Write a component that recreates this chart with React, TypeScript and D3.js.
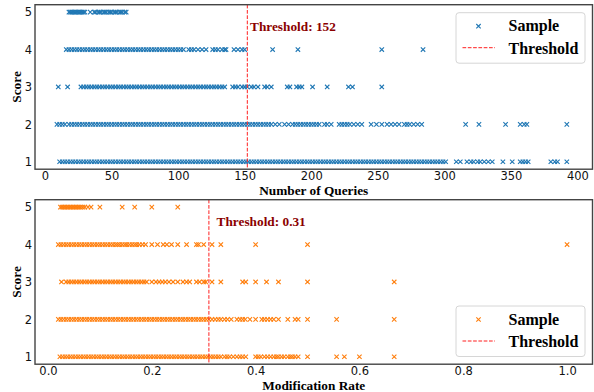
import React, { useEffect, useRef } from 'react';
import * as d3 from 'd3';

// scores on the y axis
const scores = [1, 2, 3, 4, 5];

// Number of Queries, one list per score
const queryScore5 = [18, 19, 20, 21, 22, 23, 24, 25, 26, 27, 28, 29, 30, 34, 37, 38, 40, 41, 42, 44, 45, 46, 48, 49, 50, 52, 53, 54, 56, 57, 58, 60, 61];
const queryScore4 = [16, 18, 20, 22, 24, 26, 28, 30, 32, 34, 36, 38, 40, 42, 44, 46, 48, 50, 52, 54, 56, 58, 60, 62, 64, 66, 68, 70, 72, 74, 76, 78, 80, 82, 84, 86, 88, 90, 92, 94, 96, 98, 100, 102, 104, 108, 110, 112, 115, 118, 121, 126, 128, 130, 133, 135, 136, 142, 145, 148, 150, 171, 190, 253, 284];
const queryScore3 = [10, 17, 27, 29, 31, 33, 35, 37, 39, 41, 43, 45, 47, 49, 51, 53, 55, 57, 59, 61, 63, 65, 67, 69, 71, 73, 75, 77, 79, 81, 83, 85, 87, 89, 91, 93, 95, 97, 99, 101, 103, 105, 107, 109, 111, 113, 115, 117, 119, 121, 123, 125, 127, 129, 131, 133, 135, 141, 143, 145, 148, 150, 152, 155, 157, 160, 165, 167, 170, 182, 184, 189, 191, 193, 201, 212, 228, 231, 253];
const queryScore2 = [9, 11, 13, 15, 18, 20, 22, 24, 26, 28, 30, 32, 34, 36, 38, 40, 42, 44, 46, 48, 50, 52, 54, 56, 58, 60, 62, 64, 66, 68, 70, 72, 74, 76, 78, 80, 82, 84, 86, 88, 90, 92, 94, 96, 98, 100, 102, 104, 106, 108, 110, 112, 114, 116, 118, 120, 122, 124, 126, 128, 130, 132, 134, 136, 138, 140, 142, 144, 146, 148, 150, 152, 154, 156, 158, 160, 162, 164, 166, 168, 170, 173, 176, 180, 183, 186, 188, 190, 192, 194, 196, 198, 200, 202, 204, 206, 210, 212, 215, 221, 223, 225, 227, 229, 232, 235, 238, 245, 249, 253, 257, 260, 263, 266, 270, 272, 274, 277, 280, 283, 316, 326, 346, 357, 360, 362, 392];
const queryScore1 = [11, 13, 15, 17, 19, 21, 23, 25, 27, 29, 31, 33, 35, 37, 39, 41, 43, 45, 47, 49, 51, 53, 55, 57, 59, 61, 63, 65, 67, 69, 71, 73, 75, 77, 79, 81, 83, 85, 87, 89, 91, 93, 95, 97, 99, 101, 103, 105, 107, 109, 111, 113, 115, 117, 119, 121, 123, 125, 127, 129, 131, 133, 135, 137, 139, 141, 143, 145, 147, 149, 151, 153, 155, 157, 159, 161, 163, 165, 167, 169, 171, 173, 175, 177, 179, 181, 183, 185, 187, 189, 191, 193, 195, 197, 199, 201, 203, 205, 207, 209, 211, 213, 215, 217, 219, 221, 223, 225, 227, 229, 231, 233, 235, 237, 239, 241, 243, 245, 247, 249, 251, 253, 255, 257, 259, 261, 263, 265, 267, 269, 271, 273, 275, 277, 279, 281, 283, 285, 287, 289, 291, 293, 295, 297, 299, 301, 309, 312, 317, 320, 322, 325, 327, 330, 333, 336, 344, 351, 357, 359, 361, 363, 380, 383, 385, 392];
const queryThreshold = 152;
const queryTicks = [0, 50, 100, 150, 200, 250, 300, 350, 400];

// Modification Rate, one list per score
const rateScore5 = [0.024, 0.027, 0.03, 0.033, 0.036, 0.039, 0.042, 0.045, 0.048, 0.051, 0.054, 0.057, 0.06, 0.063, 0.067, 0.071, 0.077, 0.083, 0.1, 0.143, 0.167, 0.2, 0.25];
const rateScore4 = [0.02, 0.025, 0.03, 0.035, 0.04, 0.045, 0.05, 0.055, 0.06, 0.065, 0.07, 0.075, 0.08, 0.085, 0.09, 0.095, 0.1, 0.105, 0.11, 0.115, 0.12, 0.125, 0.13, 0.134, 0.138, 0.143, 0.148, 0.152, 0.157, 0.162, 0.167, 0.171, 0.176, 0.182, 0.188, 0.2, 0.211, 0.222, 0.229, 0.238, 0.25, 0.267, 0.286, 0.29, 0.3, 0.316, 0.333, 0.4, 0.5, 1.0];
const rateScore3 = [0.026, 0.035, 0.04, 0.045, 0.05, 0.055, 0.06, 0.065, 0.07, 0.075, 0.08, 0.085, 0.09, 0.095, 0.1, 0.105, 0.11, 0.115, 0.12, 0.125, 0.13, 0.135, 0.14, 0.145, 0.15, 0.155, 0.16, 0.165, 0.17, 0.175, 0.18, 0.185, 0.19, 0.2, 0.208, 0.214, 0.22, 0.226, 0.233, 0.241, 0.25, 0.26, 0.267, 0.273, 0.286, 0.292, 0.3, 0.304, 0.316, 0.333, 0.375, 0.381, 0.4, 0.421, 0.444, 0.5, 0.667];
const rateScore2 = [0.02, 0.025, 0.03, 0.035, 0.04, 0.045, 0.05, 0.055, 0.06, 0.065, 0.07, 0.075, 0.08, 0.085, 0.09, 0.095, 0.1, 0.105, 0.11, 0.115, 0.12, 0.125, 0.13, 0.135, 0.14, 0.145, 0.15, 0.155, 0.16, 0.165, 0.17, 0.175, 0.18, 0.185, 0.19, 0.195, 0.2, 0.205, 0.21, 0.215, 0.22, 0.225, 0.23, 0.235, 0.24, 0.245, 0.25, 0.255, 0.26, 0.265, 0.27, 0.275, 0.28, 0.285, 0.29, 0.295, 0.3, 0.305, 0.31, 0.316, 0.322, 0.328, 0.333, 0.34, 0.346, 0.353, 0.364, 0.37, 0.375, 0.38, 0.389, 0.4, 0.412, 0.417, 0.423, 0.429, 0.435, 0.444, 0.462, 0.476, 0.482, 0.5, 0.556, 0.667];
const rateScore1 = [0.023, 0.028, 0.033, 0.038, 0.043, 0.048, 0.053, 0.058, 0.063, 0.068, 0.073, 0.078, 0.083, 0.088, 0.093, 0.098, 0.103, 0.108, 0.113, 0.118, 0.123, 0.128, 0.133, 0.138, 0.143, 0.148, 0.153, 0.158, 0.163, 0.168, 0.173, 0.178, 0.183, 0.188, 0.193, 0.198, 0.203, 0.208, 0.213, 0.218, 0.223, 0.228, 0.233, 0.238, 0.243, 0.248, 0.253, 0.258, 0.263, 0.268, 0.273, 0.278, 0.283, 0.288, 0.293, 0.298, 0.303, 0.308, 0.313, 0.318, 0.323, 0.328, 0.333, 0.34, 0.345, 0.35, 0.357, 0.364, 0.37, 0.375, 0.381, 0.4, 0.405, 0.41, 0.417, 0.423, 0.429, 0.435, 0.44, 0.444, 0.45, 0.455, 0.462, 0.467, 0.471, 0.476, 0.482, 0.5, 0.556, 0.571, 0.6, 0.667];
const rateThreshold = 0.31;
const rateTicks = [0.0, 0.2, 0.4, 0.6, 0.8, 1.0];

const queryRows = [queryScore1, queryScore2, queryScore3, queryScore4, queryScore5];
const rateRows = [rateScore1, rateScore2, rateScore3, rateScore4, rateScore5];

const SERIF = '"Liberation Serif", "Times New Roman", serif';
const SANS = '"DejaVu Sans", sans-serif';
const RED = '#ff1f1f';
const xMark = 'M-2.2,-2.2L2.2,2.2M-2.2,2.2L2.2,-2.2';

const Panel = (props) => {
  const ref = useRef(null);

  useEffect(() => {
    const g = d3.select(ref.current);
    g.selectAll('*').remove();

    const left = 35;
    const right = 592.5;
    const top = props.top;
    const bottom = top + 164.5;

    const x = d3.scaleLinear().domain(props.xDomain).range([left, right]);
    const y = d3.scaleLinear().domain([0.8, 5.2]).range([bottom, top]);

    // scatter
    const points = [];
    props.rows.forEach((xs, i) => {
      xs.forEach((v) => points.push({ x: v, s: scores[i] }));
    });
    g.append('g')
      .selectAll('path')
      .data(points)
      .enter()
      .append('path')
      .attr('d', xMark)
      .attr('transform', (d) => `translate(${x(d.x)},${y(d.s)})`)
      .attr('stroke', props.color)
      .attr('stroke-width', 1.1)
      .attr('fill', 'none');

    // threshold
    g.append('line')
      .attr('x1', x(props.threshold))
      .attr('x2', x(props.threshold))
      .attr('y1', top)
      .attr('y2', bottom)
      .attr('stroke', RED)
      .attr('stroke-width', 1)
      .attr('stroke-dasharray', '3.7,1.6');

    g.append('text')
      .attr('x', x(props.threshold) + props.labelDx)
      .attr('y', y(4.5))
      .style('font-family', SERIF)
      .style('font-weight', 'bold')
      .style('font-size', '13.3px')
      .style('fill', '#8b0000')
      .text(props.thresholdText);

    // axes
    const xAxis = g
      .append('g')
      .attr('transform', `translate(0,${bottom})`)
      .call(
        d3
          .axisBottom(x)
          .tickValues(props.xTicks)
          .tickSize(0)
          .tickPadding(2.5)
          .tickFormat(props.tickFormat)
      );
    xAxis.select('.domain').remove();
    xAxis
      .selectAll('text')
      .style('font-family', SANS)
      .style('font-size', '11.5px')
      .style('fill', '#111');

    const yAxis = g
      .append('g')
      .attr('transform', `translate(${left},0)`)
      .call(d3.axisLeft(y).tickValues(scores).tickSize(0).tickPadding(3).tickFormat(d3.format('d')));
    yAxis.select('.domain').remove();
    yAxis
      .selectAll('text')
      .style('font-family', SANS)
      .style('font-size', '11.5px')
      .style('fill', '#111');

    g.append('rect')
      .attr('x', left)
      .attr('y', top)
      .attr('width', right - left)
      .attr('height', bottom - top)
      .attr('fill', 'none')
      .attr('stroke', '#444')
      .attr('stroke-width', 1.4);

    // axis labels
    g.append('text')
      .attr('x', (left + right) / 2)
      .attr('y', bottom + 25.3)
      .attr('text-anchor', 'middle')
      .style('font-family', SERIF)
      .style('font-weight', 'bold')
      .style('font-size', '13.3px')
      .text(props.xLabel);

    g.append('text')
      .attr('transform', `translate(21,${(top + bottom) / 2}) rotate(-90)`)
      .attr('text-anchor', 'middle')
      .style('font-family', SERIF)
      .style('font-weight', 'bold')
      .style('font-size', '13.3px')
      .text('Score');

    // legend
    const ly = props.legendTop;
    const legend = g.append('g');
    legend
      .append('rect')
      .attr('x', 456)
      .attr('y', ly)
      .attr('width', 129)
      .attr('height', 50.5)
      .attr('rx', 3)
      .attr('fill', 'white')
      .attr('fill-opacity', 0.8)
      .attr('stroke', '#d6d6d6')
      .attr('stroke-width', 1);
    legend
      .append('path')
      .attr('d', xMark)
      .attr('transform', `translate(478.5,${ly + 13.5})`)
      .attr('stroke', props.color)
      .attr('stroke-width', 1.1)
      .attr('fill', 'none');
    legend
      .append('line')
      .attr('x1', 462.5)
      .attr('x2', 495)
      .attr('y1', ly + 35)
      .attr('y2', ly + 35)
      .attr('stroke', RED)
      .attr('stroke-width', 1)
      .attr('stroke-dasharray', '3.7,1.6');
    legend
      .append('text')
      .attr('x', 508.5)
      .attr('y', ly + 18.5)
      .style('font-family', SERIF)
      .style('font-weight', 'bold')
      .style('font-size', '16px')
      .text('Sample');
    legend
      .append('text')
      .attr('x', 508.5)
      .attr('y', ly + 40.8)
      .style('font-family', SERIF)
      .style('font-weight', 'bold')
      .style('font-size', '16px')
      .text('Threshold');
  }, [props.rows]);

  return <g ref={ref} />;
};

const App = () => {
  return (
    <div style={{ position: 'absolute', left: 0, top: 0 }}>
      <svg width={594} height={392} style={{ display: 'block', background: 'white' }}>
        <Panel
          top={4.7}
          rows={queryRows}
          xDomain={[-7.5, 411.3]}
          xTicks={queryTicks}
          tickFormat={d3.format('d')}
          threshold={queryThreshold}
          thresholdText={`Threshold: ${queryThreshold}`}
          labelDx={2.7}
          xLabel="Number of Queries"
          color="#1f77b4"
          legendTop={12.7}
        />
        <Panel
          top={199.7}
          rows={rateRows}
          xDomain={[-0.025, 1.049]}
          xTicks={rateTicks}
          tickFormat={d3.format('.1f')}
          threshold={rateThreshold}
          thresholdText={`Threshold: ${rateThreshold}`}
          labelDx={7.7}
          xLabel="Modification Rate"
          color="#ff7f0e"
          legendTop={306}
        />
      </svg>
    </div>
  );
};

export default App;
